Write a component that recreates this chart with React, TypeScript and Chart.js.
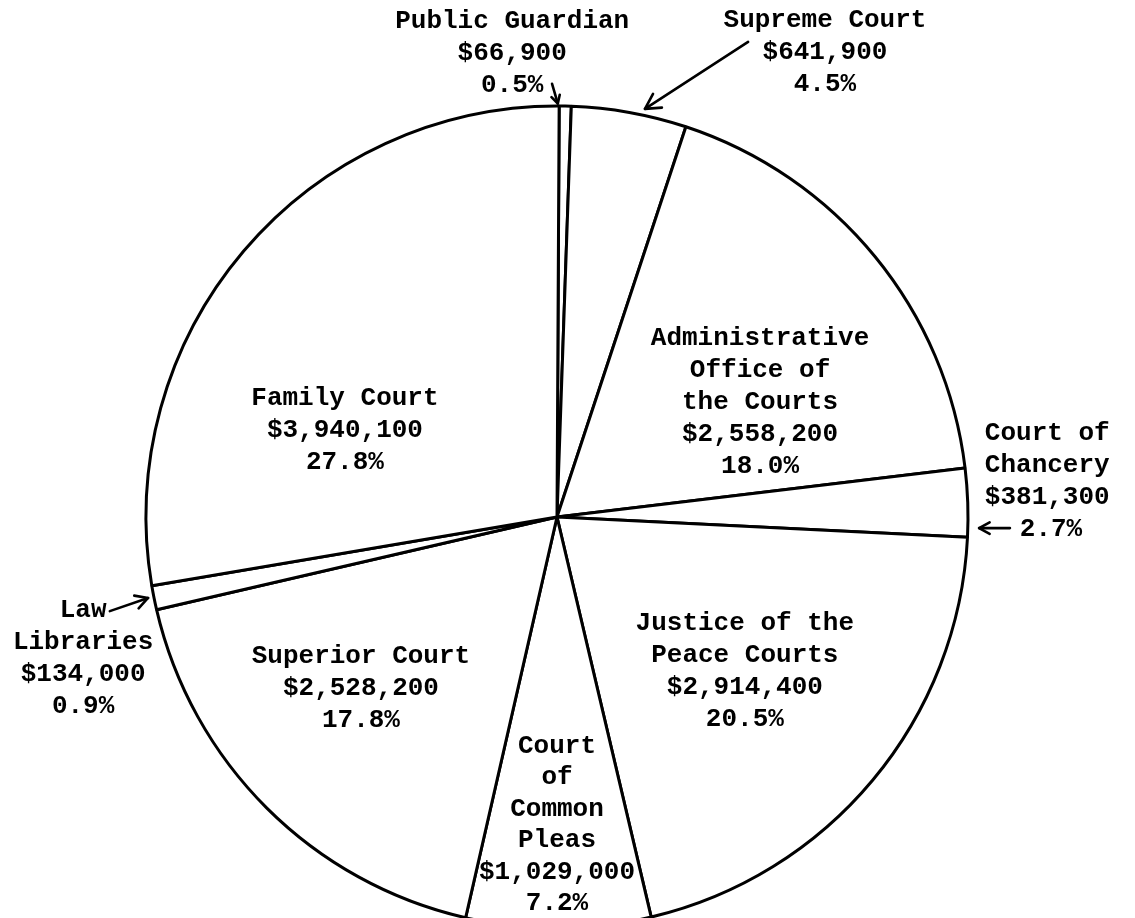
import React, { useEffect, useRef } from "react";
import { Chart, registerables } from "chart.js";

Chart.register(...registerables);

// ---- Data ----
const categories = [
  "Public Guardian",
  "Supreme Court",
  "Administrative Office of the Courts",
  "Court of Chancery",
  "Justice of the Peace Courts",
  "Court of Common Pleas",
  "Superior Court",
  "Law Libraries",
  "Family Court",
];

const budgetValues = [66900, 641900, 2558200, 381300, 2914400, 1029000, 2528200, 134000, 3940100];

const labelNames = [
  ["Public Guardian"],
  ["Supreme Court"],
  ["Administrative", "Office of", "the Courts"],
  ["Court of", "Chancery"],
  ["Justice of the", "Peace Courts"],
  ["Court", "of", "Common", "Pleas"],
  ["Superior Court"],
  ["Law", "Libraries"],
  ["Family Court"],
];

const total = budgetValues.reduce((a, b) => a + b, 0);
const fmtMoney = (v: number) => "$" + v.toLocaleString("en-US");
const fmtPct = (v: number) => ((v / total) * 100).toFixed(1) + "%";

// ---- Label placement (units of pie radius, relative to pie centre) ----
type Placement = {
  dx: number;
  dy: number;
  align: CanvasTextAlign;
  lineH?: number;
  pctShift?: number;
  arrow?: { from: [number, number]; to: [number, number]; head: number };
};

const placements: Placement[] = [
  { dx: -0.109, dy: -1.19, align: "center", arrow: { from: [-0.012, -1.054], to: [0.002, -1.006], head: 9 } },
  { dx: 0.652, dy: -1.192, align: "center", arrow: { from: [0.465, -1.156], to: [0.214, -0.993], head: 17 } },
  { dx: 0.494, dy: -0.418, align: "center" },
  { dx: 1.041, dy: -0.187, align: "left", pctShift: 0.085, arrow: { from: [1.102, 0.027], to: [1.027, 0.027], head: 12 } },
  { dx: 0.457, dy: 0.275, align: "center" },
  { dx: 0, dy: 0.574, align: "center", lineH: 31.4 },
  { dx: -0.477, dy: 0.355, align: "center" },
  { dx: -1.153, dy: 0.243, align: "center", arrow: { from: [-1.088, 0.229], to: [-0.995, 0.197], head: 14 } },
  { dx: -0.516, dy: -0.2725, align: "center" },
];

const FONT = 'bold 26px "Liberation Mono", "Courier New", monospace';
const LINE_H = 32;

function drawArrow(ctx: CanvasRenderingContext2D, x1: number, y1: number, x2: number, y2: number, head: number) {
  ctx.beginPath();
  ctx.moveTo(x1, y1);
  ctx.lineTo(x2, y2);
  ctx.stroke();
  const a = Math.atan2(y2 - y1, x2 - x1);
  const sp = 0.5;
  ctx.beginPath();
  ctx.moveTo(x2 - head * Math.cos(a - sp), y2 - head * Math.sin(a - sp));
  ctx.lineTo(x2, y2);
  ctx.lineTo(x2 - head * Math.cos(a + sp), y2 - head * Math.sin(a + sp));
  ctx.stroke();
}

const labelPlugin = {
  id: "pieLabels",
  afterDatasetsDraw(chart: any) {
    const meta = chart.getDatasetMeta(0);
    const arc0 = meta.data[0] as any;
    if (!arc0) return;
    const cx = arc0.x;
    const cy = arc0.y;
    const R = arc0.outerRadius;
    const ctx: CanvasRenderingContext2D = chart.ctx;
    ctx.save();
    ctx.fillStyle = "#000";
    ctx.strokeStyle = "#000";
    ctx.lineWidth = 2.6;
    ctx.lineCap = "round";
    ctx.lineJoin = "round";
    ctx.font = FONT;
    ctx.textBaseline = "alphabetic";
    budgetValues.forEach((v, i) => {
      const p = placements[i];
      const lines = [...labelNames[i], fmtMoney(v), fmtPct(v)];
      const lh = p.lineH ?? LINE_H;
      const x = cx + p.dx * R;
      const y = cy + p.dy * R;
      ctx.textAlign = p.align;
      lines.forEach((ln, k) => {
        const isPct = k === lines.length - 1;
        const xs = isPct && p.pctShift ? x + p.pctShift * R : x;
        ctx.fillText(ln, xs, y + k * lh);
      });
      if (p.arrow) {
        drawArrow(
          ctx,
          cx + p.arrow.from[0] * R,
          cy + p.arrow.from[1] * R,
          cx + p.arrow.to[0] * R,
          cy + p.arrow.to[1] * R,
          p.arrow.head
        );
      }
    });
    ctx.restore();
  },
};

export default function App() {
  const canvasRef = useRef<HTMLCanvasElement | null>(null);

  useEffect(() => {
    if (!canvasRef.current) return;
    const chart = new Chart(canvasRef.current, {
      type: "pie",
      data: {
        labels: categories,
        datasets: [
          {
            data: budgetValues,
            backgroundColor: "#ffffff",
            borderColor: "#000000",
            borderWidth: 3,
            clip: false,
          } as any,
        ],
      },
      options: {
        responsive: false,
        animation: false,
        events: [],
        rotation: 0.3,
        radius: 411,
        layout: { padding: { left: 0, right: 21, top: 116, bottom: 0 } },
        plugins: {
          legend: { display: false },
          tooltip: { enabled: false },
          title: { display: false },
        },
      } as any,
      plugins: [labelPlugin],
    });
    return () => chart.destroy();
  }, []);

  return (
    <div style={{ position: "fixed", left: 0, top: 0, width: 1135, height: 918, background: "#fff" }}>
      <canvas ref={canvasRef} width={1135} height={918} style={{ display: "block" }} />
    </div>
  );
}
